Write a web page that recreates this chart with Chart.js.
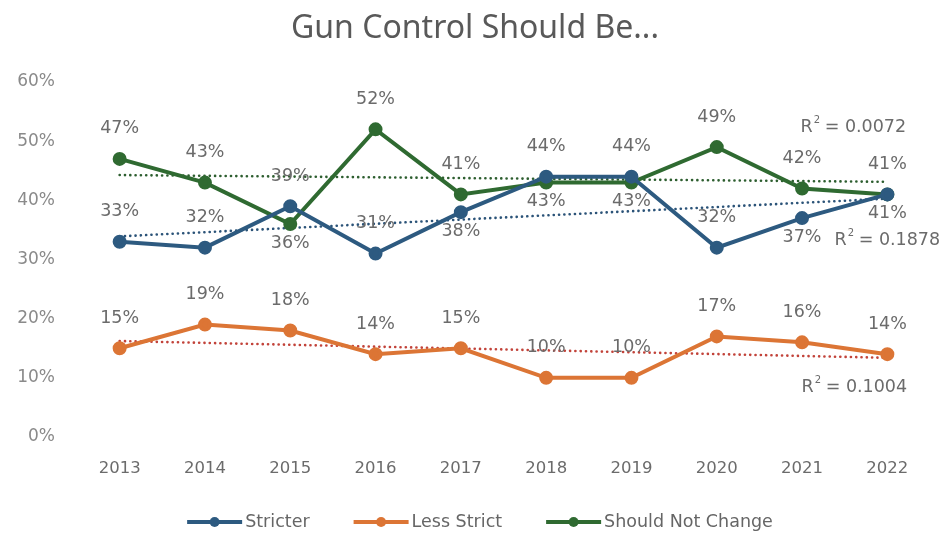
<!DOCTYPE html>
<html>
<head>
<meta charset="utf-8">
<script src="https://cdn.jsdelivr.net/npm/chart.js@4"></script>
<style>
  html, body { margin: 0; padding: 0; background: #fff; }
  #wrap { width: 950px; height: 537px; }
</style>
</head>
<body>
<div id="wrap"><canvas id="myChart" width="950" height="537"></canvas></div>
<script>
// survey results, percent
var years = ['2013', '2014', '2015', '2016', '2017', '2018', '2019', '2020', '2021', '2022'];
var stricter = [33, 32, 39, 31, 38, 44, 44, 32, 37, 41];
var lessStrict = [15, 19, 18, 14, 15, 10, 10, 17, 16, 14];
var notChange = [47, 43, 36, 52, 41, 43, 43, 49, 42, 41];
var yTicks = [0, 10, 20, 30, 40, 50, 60];
var chartTitle = 'Gun Control Should Be...';

// where each value label sits relative to its point
var stricterPos = ['above', 'above', 'above', 'above', 'below', 'above', 'above', 'above', 'below', 'below'];
var lessStrictPos = ['above', 'above', 'above', 'above', 'above', 'above', 'above', 'above', 'above', 'above'];
var notChangePos = ['above', 'above', 'below', 'above', 'above', 'below', 'below', 'above', 'above', 'above'];

var blue = '#2d5a80';
var orange = '#dc7535';
var green = '#2f6a31';

// least squares fit over the year index
function fitLine(ys) {
    var n = ys.length, mx = (n - 1) / 2, my = 0;
    for (var i = 0; i < n; i++) my += ys[i] / n;
    var sxy = 0, sxx = 0, syy = 0;
    for (var i = 0; i < n; i++) {
        sxy += (i - mx) * (ys[i] - my);
        sxx += (i - mx) * (i - mx);
        syy += (ys[i] - my) * (ys[i] - my);
    }
    var slope = sxy / sxx;
    var pts = [];
    for (var i = 0; i < n; i++) pts.push(my + slope * (i - mx));
    return { points: pts, r2: (sxy * sxy) / (sxx * syy) };
}

var fitStricter = fitLine(stricter);
var fitLess = fitLine(lessStrict);
var fitNot = fitLine(notChange);

function series(label, data, color, pos) {
    return {
        label: label, data: data, borderColor: color, backgroundColor: color,
        borderWidth: 4, pointRadius: 5, pointHoverRadius: 5, pointBackgroundColor: color,
        pointBorderColor: color, pointStyle: 'circle', tension: 0, order: 1,
        labelPos: pos
    };
}

function trend(data, color, r2, dx, dy) {
    return {
        label: 'trend', data: data, borderColor: color, borderWidth: 2.6,
        borderDash: [0.1, 5.2], borderCapStyle: 'round', pointRadius: 0, pointHoverRadius: 0,
        fill: false, order: 2, isTrend: true, r2: r2, r2dx: dx, r2dy: dy
    };
}

var labelFont = '17.5px "DejaVu Sans"';

// value labels and R² captions
var labelPlugin = {
    id: 'valueLabels',
    afterDatasetsDraw: function (chart) {
        var ctx = chart.ctx;
        ctx.save();
        ctx.font = labelFont;
        ctx.fillStyle = '#6b6b6b';
        ctx.textBaseline = 'middle';
        chart.data.datasets.forEach(function (ds, di) {
            var meta = chart.getDatasetMeta(di);
            if (ds.isTrend) {
                var last = meta.data[meta.data.length - 1];
                var x = last.x + ds.r2dx, y = last.y + ds.r2dy;
                var rest = ' = ' + ds.r2.toFixed(4);
                ctx.font = labelFont;
                var w1 = ctx.measureText('R').width;
                ctx.font = '10px "DejaVu Sans"';
                var w2 = ctx.measureText('2').width;
                ctx.font = labelFont;
                var w3 = ctx.measureText(rest).width;
                var x0 = x - (w1 + w2 + w3) / 2;
                ctx.textAlign = 'left';
                ctx.fillText('R', x0, y);
                ctx.font = '10px "DejaVu Sans"';
                ctx.fillText('2', x0 + w1 + 1, y - 7);
                ctx.font = labelFont;
                ctx.fillText(rest, x0 + w1 + w2, y);
                return;
            }
            ctx.textAlign = 'center';
            meta.data.forEach(function (pt, i) {
                var off = ds.labelPos[i] === 'above' ? -30 : 19;
                ctx.fillText(ds.data[i] + '%', pt.x, pt.y + off);
            });
        });
        ctx.restore();
    }
};

// title across the full width, legend row underneath the axis
var framePlugin = {
    id: 'frame',
    afterDraw: function (chart) {
        var ctx = chart.ctx;
        ctx.save();
        ctx.textBaseline = 'middle';
        ctx.textAlign = 'center';
        ctx.fillStyle = '#595959';
        ctx.font = '32px "Noto Sans"';
        ctx.fillText(chartTitle, chart.width / 2, 29);

        var items = chart.data.datasets.filter(function (ds) { return !ds.isTrend; });
        var swW = 55, txtGap = 3, itemGap = 44, y = 522;
        ctx.font = '17.5px "DejaVu Sans"';
        var total = 0;
        items.forEach(function (ds, i) {
            total += swW + txtGap + ctx.measureText(ds.label).width + (i ? itemGap : 0);
        });
        var x = chart.width / 2 + 5 - total / 2;
        ctx.textAlign = 'left';
        items.forEach(function (ds) {
            ctx.strokeStyle = ds.borderColor;
            ctx.lineWidth = 4;
            ctx.beginPath(); ctx.moveTo(x, y); ctx.lineTo(x + swW, y); ctx.stroke();
            ctx.fillStyle = ds.borderColor;
            ctx.beginPath(); ctx.arc(x + swW / 2, y, 5, 0, Math.PI * 2); ctx.fill();
            x += swW + txtGap;
            ctx.fillStyle = '#666';
            ctx.fillText(ds.label, x, y);
            x += ctx.measureText(ds.label).width + itemGap;
        });
        ctx.restore();
    }
};

var ctx = document.getElementById('myChart').getContext('2d');
var myChart = new Chart(ctx, {
    type: 'line',
    data: {
        labels: years,
        datasets: [
            series('Stricter', stricter, blue, stricterPos),
            series('Less Strict', lessStrict, orange, lessStrictPos),
            series('Should Not Change', notChange, green, notChangePos),
            trend(fitStricter.points, '#2b5378', fitStricter.r2, 0, 42),
            trend(fitLess.points, '#c2433a', fitLess.r2, -33, 30),
            trend(fitNot.points, '#2d5e2f', fitNot.r2, -34, -54)
        ]
    },
    options: {
        responsive: false,
        animation: false,
        layout: { padding: { left: 0, right: 20, top: 82, bottom: 50 } },
        plugins: {
            tooltip: { enabled: false },
            legend: { display: false },
            title: { display: false }
        },
        scales: {
            x: {
                offset: true,
                grid: { display: false },
                border: { display: false },
                ticks: { color: '#6b6b6b', font: { family: '"DejaVu Sans"', size: 16.5 }, padding: 14 },
                afterFit: function (scale) { scale.height = 50; }
            },
            y: {
                min: 0, max: 60,
                grid: { display: false },
                border: { display: false },
                afterBuildTicks: function (scale) {
                    scale.ticks = yTicks.map(function (v) { return { value: v }; });
                },
                ticks: {
                    color: '#8a8a8a',
                    font: { family: '"DejaVu Sans"', size: 17 },
                    padding: 14,
                    callback: function (v) { return v + '%'; }
                },
                afterFit: function (scale) { scale.width = 77; }
            }
        }
    },
    plugins: [labelPlugin, framePlugin]
});
</script>
</body>
</html>
